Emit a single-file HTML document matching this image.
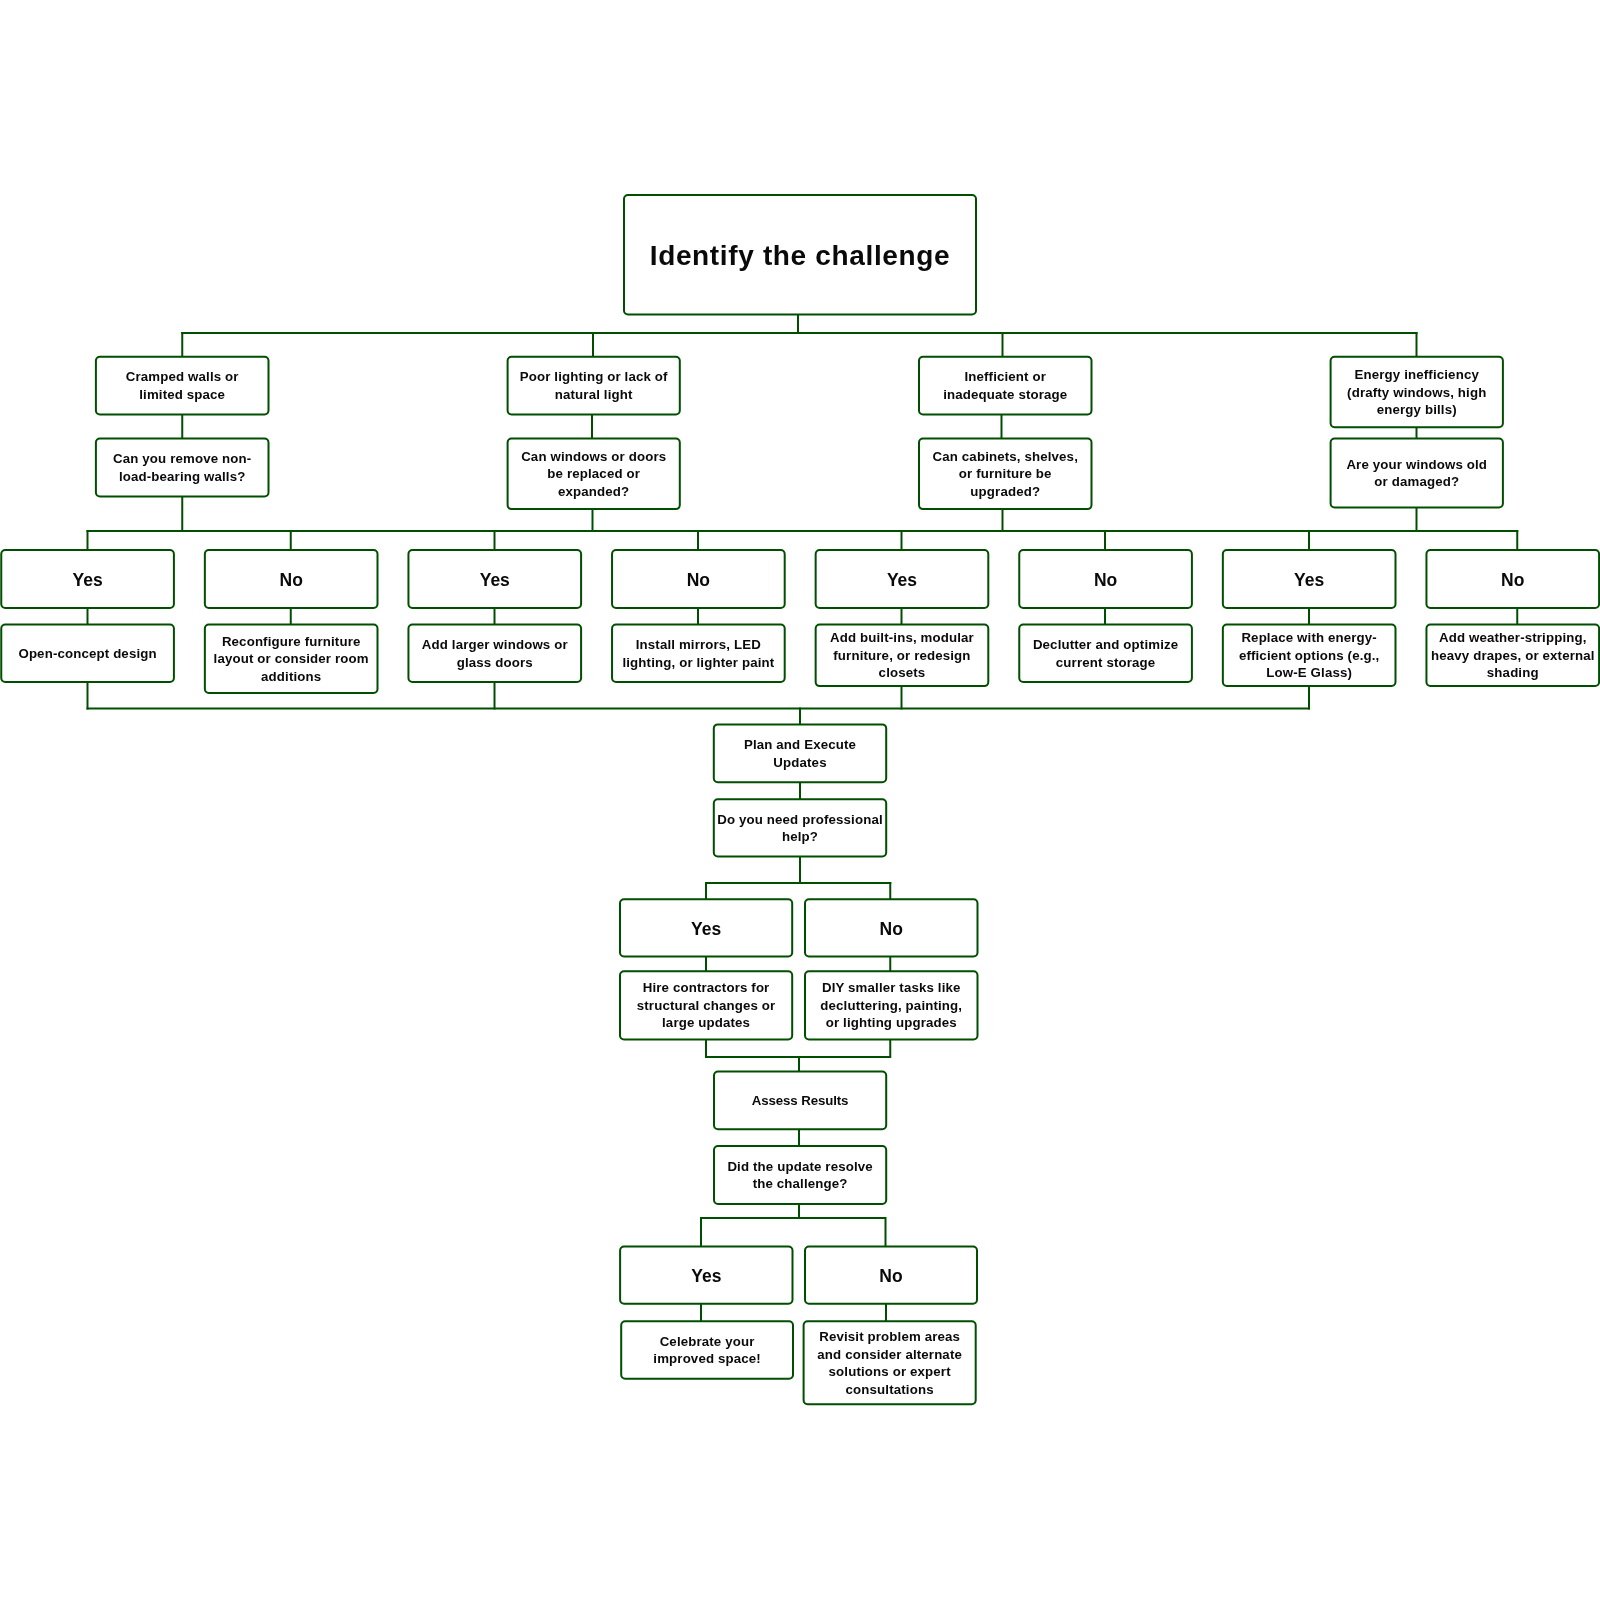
<!DOCTYPE html><html><head><meta charset="utf-8"><style>html,body{margin:0;padding:0;background:#fff;}body{width:1600px;height:1600px;overflow:hidden;}svg{display:block;will-change:transform;}text{font-family:"Liberation Sans",sans-serif;font-weight:bold;fill:#0a0a0a;}</style></head><body>
<svg width="1600" height="1600" viewBox="0 0 1600 1600">
<rect x="0" y="0" width="1600" height="1600" fill="#fff"/>
<g fill="none" stroke="#004e00" stroke-width="2" stroke-linecap="square">
<path d="M798,315 L798,333"/>
<path d="M182.25,333 L1416.5,333"/>
<path d="M182.25,333 L182.25,357"/>
<path d="M593,333 L593,357"/>
<path d="M1002.5,333 L1002.5,357"/>
<path d="M1416.5,333 L1416.5,357"/>
<path d="M182.25,415 L182.25,439"/>
<path d="M592,415 L592,439"/>
<path d="M1001.5,415 L1001.5,439"/>
<path d="M1416.5,427 L1416.5,439"/>
<path d="M182.25,496 L182.25,531"/>
<path d="M592.5,509 L592.5,531"/>
<path d="M1002.5,509 L1002.5,531"/>
<path d="M1416.5,508 L1416.5,531"/>
<path d="M87.5,531 L1517.25,531"/>
<path d="M87.5,531 L87.5,550"/>
<path d="M87.5,608 L87.5,624.5"/>
<path d="M290.75,531 L290.75,550"/>
<path d="M290.75,608 L290.75,624.5"/>
<path d="M494.5,531 L494.5,550"/>
<path d="M494.5,608 L494.5,624.5"/>
<path d="M698,531 L698,550"/>
<path d="M698,608 L698,624.5"/>
<path d="M901.5,531 L901.5,550"/>
<path d="M901.5,608 L901.5,624.5"/>
<path d="M1105,531 L1105,550"/>
<path d="M1105,608 L1105,624.5"/>
<path d="M1309,531 L1309,550"/>
<path d="M1309,608 L1309,624.5"/>
<path d="M1517.25,531 L1517.25,550"/>
<path d="M1517.25,608 L1517.25,624.5"/>
<path d="M87.5,682 L87.5,708.5"/>
<path d="M494.5,682 L494.5,708.5"/>
<path d="M901.5,686 L901.5,708.5"/>
<path d="M1309,686 L1309,708.5"/>
<path d="M87.5,708.5 L1309,708.5"/>
<path d="M800,708.5 L800,725"/>
<path d="M800,781.5 L800,799"/>
<path d="M800,856 L800,883"/>
<path d="M706,883 L890.25,883"/>
<path d="M706,883 L706,899.5"/>
<path d="M890.25,883 L890.25,899.5"/>
<path d="M706,956 L706,971.5"/>
<path d="M890.25,956 L890.25,971.5"/>
<path d="M706,1039.5 L706,1057 L890.25,1057 L890.25,1039.5"/>
<path d="M799,1057 L799,1072"/>
<path d="M799,1129 L799,1146.5"/>
<path d="M799,1203.5 L799,1218"/>
<path d="M701,1247 L701,1218 L885.5,1218 L885.5,1247"/>
<path d="M701,1303.5 L701,1321.5"/>
<path d="M886,1303.5 L886,1321.5"/>
</g>
<g fill="#fff" stroke="#004e00" stroke-width="2">
<rect x="624.00" y="195.00" width="352.00" height="119.50" rx="4" ry="4"/>
<rect x="95.90" y="356.75" width="172.60" height="57.75" rx="4" ry="4"/>
<rect x="507.60" y="356.75" width="172.20" height="57.75" rx="4" ry="4"/>
<rect x="919.00" y="356.75" width="172.50" height="57.75" rx="4" ry="4"/>
<rect x="1330.60" y="356.75" width="172.30" height="70.55" rx="4" ry="4"/>
<rect x="95.90" y="438.50" width="172.60" height="58.00" rx="4" ry="4"/>
<rect x="507.60" y="438.50" width="172.20" height="70.60" rx="4" ry="4"/>
<rect x="919.00" y="438.50" width="172.50" height="70.60" rx="4" ry="4"/>
<rect x="1330.60" y="438.50" width="172.30" height="69.00" rx="4" ry="4"/>
<rect x="1.25" y="550.00" width="172.65" height="58.00" rx="4" ry="4"/>
<rect x="204.85" y="550.00" width="172.65" height="58.00" rx="4" ry="4"/>
<rect x="408.45" y="550.00" width="172.65" height="58.00" rx="4" ry="4"/>
<rect x="612.05" y="550.00" width="172.65" height="58.00" rx="4" ry="4"/>
<rect x="815.65" y="550.00" width="172.65" height="58.00" rx="4" ry="4"/>
<rect x="1019.25" y="550.00" width="172.65" height="58.00" rx="4" ry="4"/>
<rect x="1222.85" y="550.00" width="172.65" height="58.00" rx="4" ry="4"/>
<rect x="1426.45" y="550.00" width="172.65" height="58.00" rx="4" ry="4"/>
<rect x="1.25" y="624.50" width="172.65" height="57.50" rx="4" ry="4"/>
<rect x="204.85" y="624.50" width="172.65" height="68.50" rx="4" ry="4"/>
<rect x="408.45" y="624.50" width="172.65" height="57.50" rx="4" ry="4"/>
<rect x="612.05" y="624.50" width="172.65" height="57.50" rx="4" ry="4"/>
<rect x="815.65" y="624.50" width="172.65" height="61.60" rx="4" ry="4"/>
<rect x="1019.25" y="624.50" width="172.65" height="57.50" rx="4" ry="4"/>
<rect x="1222.85" y="624.50" width="172.65" height="61.50" rx="4" ry="4"/>
<rect x="1426.45" y="624.50" width="172.65" height="61.50" rx="4" ry="4"/>
<rect x="713.80" y="724.40" width="172.40" height="57.90" rx="4" ry="4"/>
<rect x="713.80" y="799.20" width="172.40" height="57.30" rx="4" ry="4"/>
<rect x="620.00" y="899.20" width="172.20" height="57.30" rx="4" ry="4"/>
<rect x="805.00" y="899.20" width="172.50" height="57.30" rx="4" ry="4"/>
<rect x="620.00" y="971.20" width="172.20" height="68.30" rx="4" ry="4"/>
<rect x="805.00" y="971.20" width="172.50" height="68.30" rx="4" ry="4"/>
<rect x="714.00" y="1071.60" width="172.20" height="57.70" rx="4" ry="4"/>
<rect x="714.00" y="1146.00" width="172.20" height="57.90" rx="4" ry="4"/>
<rect x="620.10" y="1246.60" width="172.40" height="57.20" rx="4" ry="4"/>
<rect x="805.00" y="1246.60" width="172.00" height="57.20" rx="4" ry="4"/>
<rect x="621.20" y="1321.30" width="171.80" height="57.40" rx="4" ry="4"/>
<rect x="803.60" y="1321.30" width="172.10" height="82.90" rx="4" ry="4"/>
</g>
<text x="800.00" y="265.13" font-size="28" text-anchor="middle" letter-spacing="0.65">Identify the challenge</text>
<text x="182.20" y="381.43" font-size="13.25" text-anchor="middle" letter-spacing="0.15">Cramped walls or</text>
<text x="182.20" y="398.93" font-size="13.25" text-anchor="middle" letter-spacing="0.15">limited space</text>
<text x="593.70" y="381.43" font-size="13.25" text-anchor="middle" letter-spacing="0.15">Poor lighting or lack of</text>
<text x="593.70" y="398.93" font-size="13.25" text-anchor="middle" letter-spacing="0.15">natural light</text>
<text x="1005.25" y="381.43" font-size="13.25" text-anchor="middle" letter-spacing="0.15">Inefficient or</text>
<text x="1005.25" y="398.93" font-size="13.25" text-anchor="middle" letter-spacing="0.15">inadequate storage</text>
<text x="1416.75" y="379.08" font-size="13.25" text-anchor="middle" letter-spacing="0.15">Energy inefficiency</text>
<text x="1416.75" y="396.58" font-size="13.25" text-anchor="middle" letter-spacing="0.15">(drafty windows, high</text>
<text x="1416.75" y="414.08" font-size="13.25" text-anchor="middle" letter-spacing="0.15">energy bills)</text>
<text x="182.20" y="463.31" font-size="13.25" text-anchor="middle" letter-spacing="0.15">Can you remove non-</text>
<text x="182.20" y="480.81" font-size="13.25" text-anchor="middle" letter-spacing="0.15">load-bearing walls?</text>
<text x="593.70" y="460.86" font-size="13.25" text-anchor="middle" letter-spacing="0.15">Can windows or doors</text>
<text x="593.70" y="478.36" font-size="13.25" text-anchor="middle" letter-spacing="0.15">be replaced or</text>
<text x="593.70" y="495.86" font-size="13.25" text-anchor="middle" letter-spacing="0.15">expanded?</text>
<text x="1005.25" y="460.86" font-size="13.25" text-anchor="middle" letter-spacing="0.15">Can cabinets, shelves,</text>
<text x="1005.25" y="478.36" font-size="13.25" text-anchor="middle" letter-spacing="0.15">or furniture be</text>
<text x="1005.25" y="495.86" font-size="13.25" text-anchor="middle" letter-spacing="0.15">upgraded?</text>
<text x="1416.75" y="468.81" font-size="13.25" text-anchor="middle" letter-spacing="0.15">Are your windows old</text>
<text x="1416.75" y="486.31" font-size="13.25" text-anchor="middle" letter-spacing="0.15">or damaged?</text>
<text x="87.58" y="586.22" font-size="17.5" text-anchor="middle" letter-spacing="0">Yes</text>
<text x="291.18" y="586.22" font-size="17.5" text-anchor="middle" letter-spacing="0">No</text>
<text x="494.77" y="586.22" font-size="17.5" text-anchor="middle" letter-spacing="0">Yes</text>
<text x="698.38" y="586.22" font-size="17.5" text-anchor="middle" letter-spacing="0">No</text>
<text x="901.97" y="586.22" font-size="17.5" text-anchor="middle" letter-spacing="0">Yes</text>
<text x="1105.58" y="586.22" font-size="17.5" text-anchor="middle" letter-spacing="0">No</text>
<text x="1309.17" y="586.22" font-size="17.5" text-anchor="middle" letter-spacing="0">Yes</text>
<text x="1512.78" y="586.22" font-size="17.5" text-anchor="middle" letter-spacing="0">No</text>
<text x="87.58" y="657.81" font-size="13.25" text-anchor="middle" letter-spacing="0.15">Open-concept design</text>
<text x="291.18" y="645.81" font-size="13.25" text-anchor="middle" letter-spacing="0.15">Reconfigure furniture</text>
<text x="291.18" y="663.31" font-size="13.25" text-anchor="middle" letter-spacing="0.15">layout or consider room</text>
<text x="291.18" y="680.81" font-size="13.25" text-anchor="middle" letter-spacing="0.15">additions</text>
<text x="494.77" y="649.06" font-size="13.25" text-anchor="middle" letter-spacing="0.15">Add larger windows or</text>
<text x="494.77" y="666.56" font-size="13.25" text-anchor="middle" letter-spacing="0.15">glass doors</text>
<text x="698.38" y="649.06" font-size="13.25" text-anchor="middle" letter-spacing="0.15">Install mirrors, LED</text>
<text x="698.38" y="666.56" font-size="13.25" text-anchor="middle" letter-spacing="0.15">lighting, or lighter paint</text>
<text x="901.97" y="642.36" font-size="13.25" text-anchor="middle" letter-spacing="0.15">Add built-ins, modular</text>
<text x="901.97" y="659.86" font-size="13.25" text-anchor="middle" letter-spacing="0.15">furniture, or redesign</text>
<text x="901.97" y="677.36" font-size="13.25" text-anchor="middle" letter-spacing="0.15">closets</text>
<text x="1105.58" y="649.06" font-size="13.25" text-anchor="middle" letter-spacing="0.15">Declutter and optimize</text>
<text x="1105.58" y="666.56" font-size="13.25" text-anchor="middle" letter-spacing="0.15">current storage</text>
<text x="1309.17" y="642.31" font-size="13.25" text-anchor="middle" letter-spacing="0.15">Replace with energy-</text>
<text x="1309.17" y="659.81" font-size="13.25" text-anchor="middle" letter-spacing="0.15">efficient options (e.g.,</text>
<text x="1309.17" y="677.31" font-size="13.25" text-anchor="middle" letter-spacing="0.15">Low-E Glass)</text>
<text x="1512.78" y="642.31" font-size="13.25" text-anchor="middle" letter-spacing="0.15">Add weather-stripping,</text>
<text x="1512.78" y="659.81" font-size="13.25" text-anchor="middle" letter-spacing="0.15">heavy drapes, or external</text>
<text x="1512.78" y="677.31" font-size="13.25" text-anchor="middle" letter-spacing="0.15">shading</text>
<text x="800.00" y="749.16" font-size="13.25" text-anchor="middle" letter-spacing="0.15">Plan and Execute</text>
<text x="800.00" y="766.66" font-size="13.25" text-anchor="middle" letter-spacing="0.15">Updates</text>
<text x="800.00" y="823.66" font-size="13.25" text-anchor="middle" letter-spacing="0.15">Do you need professional</text>
<text x="800.00" y="841.16" font-size="13.25" text-anchor="middle" letter-spacing="0.15">help?</text>
<text x="706.10" y="935.07" font-size="17.5" text-anchor="middle" letter-spacing="0">Yes</text>
<text x="891.25" y="935.07" font-size="17.5" text-anchor="middle" letter-spacing="0">No</text>
<text x="706.10" y="992.41" font-size="13.25" text-anchor="middle" letter-spacing="0.15">Hire contractors for</text>
<text x="706.10" y="1009.91" font-size="13.25" text-anchor="middle" letter-spacing="0.15">structural changes or</text>
<text x="706.10" y="1027.41" font-size="13.25" text-anchor="middle" letter-spacing="0.15">large updates</text>
<text x="891.25" y="992.41" font-size="13.25" text-anchor="middle" letter-spacing="0.15">DIY smaller tasks like</text>
<text x="891.25" y="1009.91" font-size="13.25" text-anchor="middle" letter-spacing="0.15">decluttering, painting,</text>
<text x="891.25" y="1027.41" font-size="13.25" text-anchor="middle" letter-spacing="0.15">or lighting upgrades</text>
<text x="800.10" y="1105.01" font-size="13.25" text-anchor="middle" letter-spacing="-0.1">Assess Results</text>
<text x="800.10" y="1170.76" font-size="13.25" text-anchor="middle" letter-spacing="0.15">Did the update resolve</text>
<text x="800.10" y="1188.26" font-size="13.25" text-anchor="middle" letter-spacing="0.15">the challenge?</text>
<text x="706.30" y="1282.42" font-size="17.5" text-anchor="middle" letter-spacing="0">Yes</text>
<text x="891.00" y="1282.42" font-size="17.5" text-anchor="middle" letter-spacing="0">No</text>
<text x="707.10" y="1345.81" font-size="13.25" text-anchor="middle" letter-spacing="0.15">Celebrate your</text>
<text x="707.10" y="1363.31" font-size="13.25" text-anchor="middle" letter-spacing="0.15">improved space!</text>
<text x="889.65" y="1341.06" font-size="13.25" text-anchor="middle" letter-spacing="0.15">Revisit problem areas</text>
<text x="889.65" y="1358.56" font-size="13.25" text-anchor="middle" letter-spacing="0.15">and consider alternate</text>
<text x="889.65" y="1376.06" font-size="13.25" text-anchor="middle" letter-spacing="0.15">solutions or expert</text>
<text x="889.65" y="1393.56" font-size="13.25" text-anchor="middle" letter-spacing="0.15">consultations</text>
</svg></body></html>
